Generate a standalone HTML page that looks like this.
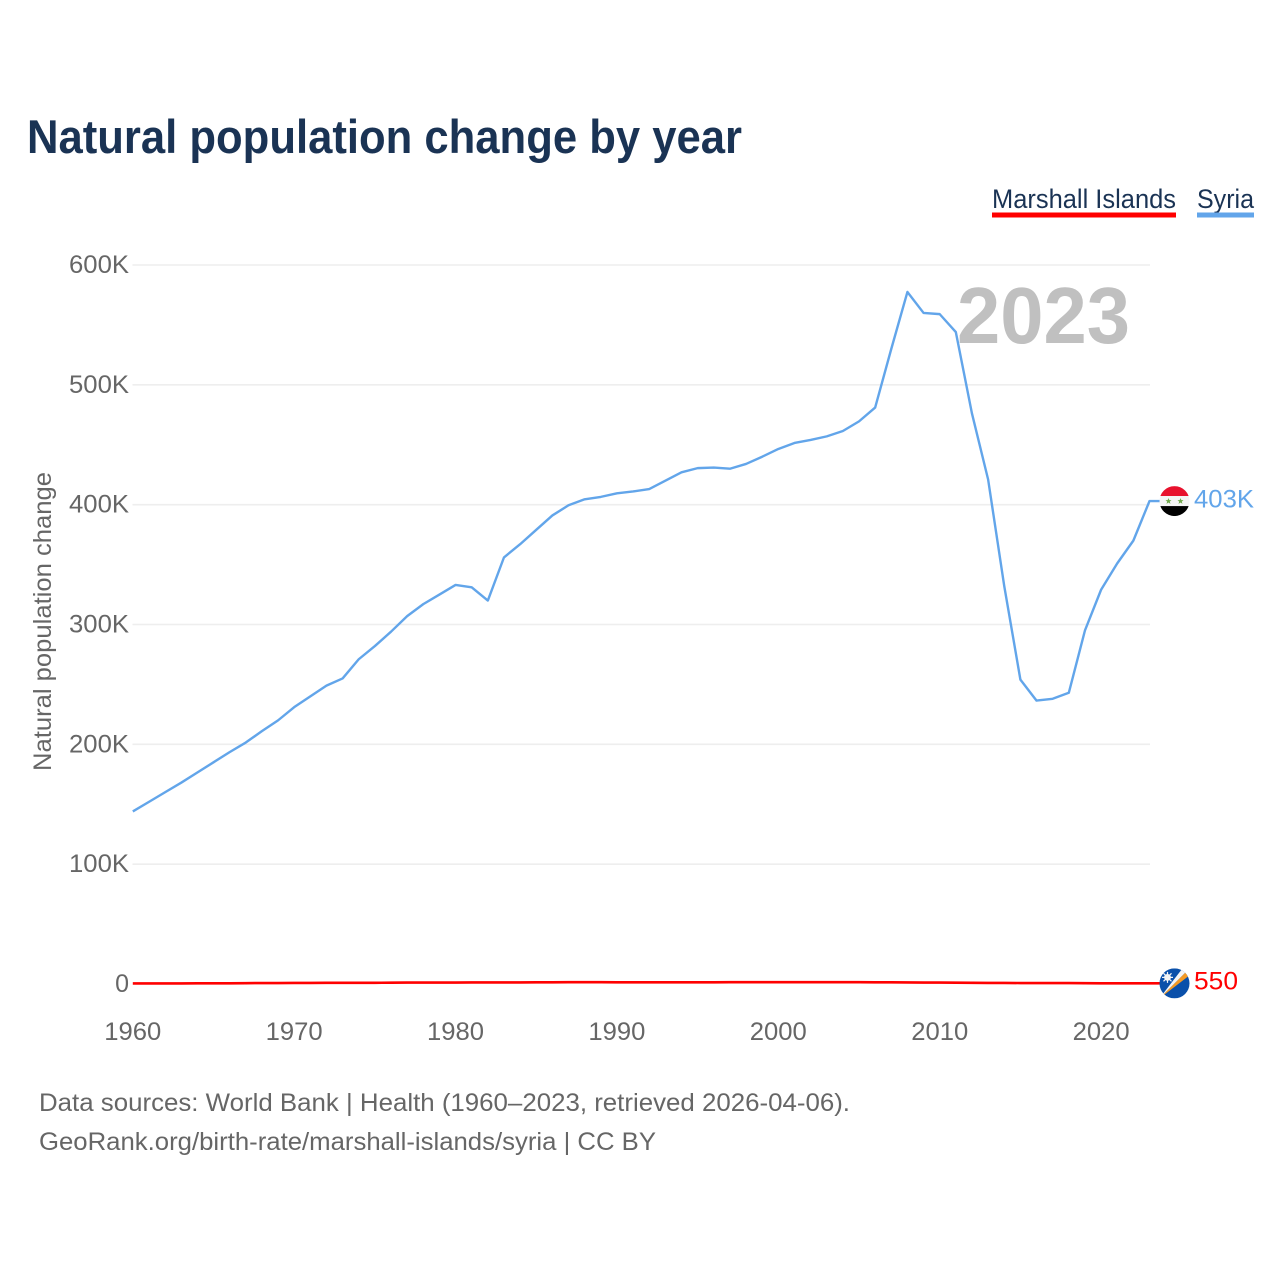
<!DOCTYPE html>
<html>
<head>
<meta charset="utf-8">
<title>Natural population change by year</title>
<style>
html,body{margin:0;padding:0;background:#fff;}
svg{display:block;}
text{font-family:"Liberation Sans",sans-serif;}
</style>
</head>
<body>
<svg id="chart" xmlns="http://www.w3.org/2000/svg" width="1280" height="1280" viewBox="0 0 1280 1280">
  <rect x="0" y="0" width="1280" height="1280" fill="#ffffff"/>
  <text x="27" y="153" font-size="47" font-weight="700" fill="#1a3354" textLength="715" lengthAdjust="spacingAndGlyphs">Natural population change by year</text>
  <g>
    <text x="992" y="208" font-size="27" fill="#1a3354" textLength="184" lengthAdjust="spacingAndGlyphs">Marshall Islands</text>
    <rect x="992" y="212.5" width="184" height="5" fill="#ff0000"/>
  </g>
  <g>
    <text x="1197" y="208" font-size="27" fill="#1a3354" textLength="57" lengthAdjust="spacingAndGlyphs">Syria</text>
    <rect x="1197" y="212.5" width="57" height="5" fill="#62a5ea"/>
  </g>
  <text transform="translate(51,771) rotate(-90)" x="0" y="0" font-size="25" fill="#666666" textLength="299" lengthAdjust="spacingAndGlyphs">Natural population change</text>
  <g id="grid"></g>
  <g id="yticks"></g>
  <g id="xticks"></g>
  <text x="957" y="343" font-size="80" font-weight="700" fill="#c0c0c0" textLength="173" lengthAdjust="spacingAndGlyphs">2023</text>
  <g id="series"></g>
  <defs>
    <clipPath id="clip-syria"><circle cx="0" cy="0" r="15"/></clipPath>
    <clipPath id="clip-marshall"><circle cx="0" cy="0" r="15"/></clipPath>
  </defs>
  <g id="flag-syria" clip-path="url(#clip-syria)">
    <rect x="-15" y="-15" width="30" height="10" fill="#e8112d"/>
    <rect x="-15" y="-5" width="30" height="10" fill="#f4f4f4"/>
    <rect x="-15" y="5" width="30" height="10" fill="#000000"/>
    <polygon points="-6,-3 -5.1,-0.9 -3,-0.9 -4.7,0.5 -4,2.8 -6,1.4 -8,2.8 -7.3,0.5 -9,-0.9 -6.9,-0.9" fill="#6fa84a"/>
    <polygon points="6,-3 6.9,-0.9 9,-0.9 7.3,0.5 8,2.8 6,1.4 4,2.8 4.7,0.5 3,-0.9 5.1,-0.9" fill="#6fa84a"/>
  </g>
  <g id="flag-marshall" clip-path="url(#clip-marshall)">
    <rect x="-15" y="-15" width="30" height="30" fill="#0a50aa"/>
    <polygon points="-15,15 15,-15 15,-8" fill="#f59a23"/>
    <polygon points="-15,15 15,-15 8,-15" fill="#f4f4f4"/>
    <circle cx="-7" cy="-6" r="3.4" fill="#f4f4f4"/>
    <path d="M-7,-11.5V-0.5M-12.5,-6H-1.5M-11,-10L-3,-2M-3,-10L-11,-2" stroke="#f4f4f4" stroke-width="1.2"/>
  </g>
  <text id="label-syria" x="1194" font-size="25" fill="#62a5ea" textLength="60" lengthAdjust="spacingAndGlyphs"></text>
  <text id="label-marshall" x="1194" font-size="25" fill="#ff0000" textLength="44" lengthAdjust="spacingAndGlyphs"></text>
  <text x="39" y="1111" font-size="25" fill="#666666" textLength="811" lengthAdjust="spacingAndGlyphs">Data sources: World Bank | Health (1960–2023, retrieved 2026-04-06).</text>
  <a><text x="39" y="1150" font-size="25" fill="#666666" textLength="617" lengthAdjust="spacingAndGlyphs">GeoRank.org/birth-rate/marshall-islands/syria | CC BY</text></a>
</svg>
<script>
const years = [1960,1961,1962,1963,1964,1965,1966,1967,1968,1969,1970,1971,1972,1973,1974,1975,1976,1977,1978,1979,1980,1981,1982,1983,1984,1985,1986,1987,1988,1989,1990,1991,1992,1993,1994,1995,1996,1997,1998,1999,2000,2001,2002,2003,2004,2005,2006,2007,2008,2009,2010,2011,2012,2013,2014,2015,2016,2017,2018,2019,2020,2021,2022,2023];
const syria = [144,152,160,168,176.5,185,193.5,201.5,211,220,231,240,249,255,271,282,294,307,317,325,333,331,320,356,367,379,391,399.5,404.5,406.5,409.5,411,413,420,427,430.5,431,430,434,440,446.5,451.5,454,457,461.5,469.5,481,530,577.5,560,559,544,476,421,332,254,236.5,238,243,295,329,351,370,403];
const marshall = [0.5,0.5,0.5,0.5,0.6,0.6,0.6,0.7,0.8,0.8,0.9,0.9,1,1,1,1,1.1,1.2,1.2,1.2,1.2,1.3,1.3,1.3,1.3,1.4,1.4,1.5,1.5,1.5,1.4,1.4,1.4,1.4,1.4,1.4,1.4,1.5,1.5,1.5,1.5,1.5,1.5,1.5,1.5,1.5,1.4,1.4,1.3,1.2,1.2,1.1,1,0.9,0.9,0.8,0.8,0.8,0.8,0.7,0.6,0.6,0.6,0.55];
const yTickValues = [0,100,200,300,400,500,600];
const yTickLabels = ["0","100K","200K","300K","400K","500K","600K"];
const xTickValues = [1960,1970,1980,1990,2000,2010,2020];
const xTickLabels = ["1960","1970","1980","1990","2000","2010","2020"];
const endLabels = {syria:"403K", marshall:"550"};

const NS = "http://www.w3.org/2000/svg";
function xScale(year){ return 132.8 + (year - 1960) * (1149.5 - 132.8) / 63; }
function yScale(k){ return 984 - k * (984 - 265) / 600; }

const gridGroup = document.getElementById('grid');
const yGroup = document.getElementById('yticks');
const xGroup = document.getElementById('xticks');
const seriesGroup = document.getElementById('series');

yTickValues.forEach(function(v, i){
  if (v !== 0) {
    const line = document.createElementNS(NS, 'line');
    
    
    line.setAttribute('x1', 132.5);
    line.setAttribute('x2', 1150);
    line.setAttribute('y1', yScale(v));
    line.setAttribute('y2', yScale(v));
    line.setAttribute('stroke', '#eeeeee');
    line.setAttribute('stroke-width', '1.6');
    gridGroup.appendChild(line);
  }
  const t = document.createElementNS(NS, 'text');
  
  
  t.setAttribute('x', v === 0 ? 129 : 69);
  t.setAttribute('y', yScale(v) + 8);
  t.setAttribute('text-anchor', v === 0 ? 'end' : 'start');
  t.setAttribute('font-size', '25');
  t.setAttribute('fill', '#666666');
  if (v !== 0) {
    t.setAttribute('textLength', '60');
    t.setAttribute('lengthAdjust', 'spacingAndGlyphs');
  }
  t.textContent = yTickLabels[i];
  yGroup.appendChild(t);
});

xTickValues.forEach(function(v, i){
  const t = document.createElementNS(NS, 'text');
  
  
  t.setAttribute('x', xScale(v) - 28.5);
  t.setAttribute('y', 1040);
  t.setAttribute('font-size', '25');
  t.setAttribute('fill', '#666666');
  t.setAttribute('textLength', '57');
  t.setAttribute('lengthAdjust', 'spacingAndGlyphs');
  t.textContent = xTickLabels[i];
  xGroup.appendChild(t);
});

function pathFrom(values){
  const d = values.map(function(v, i){
    return (i ? 'L' : 'M') + xScale(years[i]).toFixed(2) + ',' + yScale(v).toFixed(2);
  }).join('');
  return d + 'L1160,' + yScale(values[values.length - 1]).toFixed(2);
}

const syriaLine = document.createElementNS(NS, 'path');


syriaLine.setAttribute('d', pathFrom(syria));
syriaLine.setAttribute('fill', 'none');
syriaLine.setAttribute('stroke', '#62a5ea');
syriaLine.setAttribute('stroke-width', '2.4');
syriaLine.setAttribute('stroke-linejoin', 'round');
seriesGroup.appendChild(syriaLine);

const marshallLine = document.createElementNS(NS, 'path');


marshallLine.setAttribute('d', pathFrom(marshall));
marshallLine.setAttribute('fill', 'none');
marshallLine.setAttribute('stroke', '#ff0000');
marshallLine.setAttribute('stroke-width', '2.6');
marshallLine.setAttribute('stroke-linejoin', 'round');
seriesGroup.appendChild(marshallLine);

function placeEnd(flagId, labelId, values, text, labelDy){
  const cy = yScale(values[values.length - 1]);
  document.getElementById(flagId).setAttribute('transform', 'translate(1174.5,' + cy + ')');
  const label = document.getElementById(labelId);
  label.setAttribute('y', cy + labelDy);
  label.textContent = text;
}
placeEnd('flag-syria', 'label-syria', syria, endLabels.syria, 6.5);
placeEnd('flag-marshall', 'label-marshall', marshall, endLabels.marshall, 6);
</script>
</body>
</html>
